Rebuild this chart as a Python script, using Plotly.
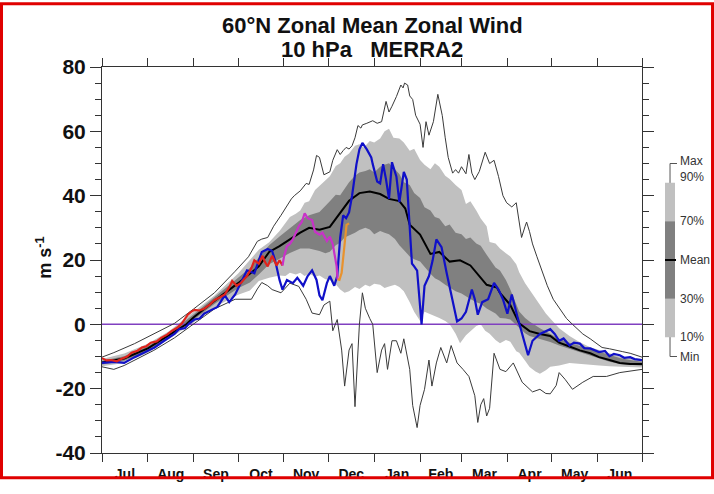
import numpy as np
import pandas as pd
import plotly.graph_objects as go

BASE = pd.Timestamp("2022-07-01")

# ---- climatology (days since 1 Jul, m/s) ----
MEAN_DAY = [0,15,31,45,57,62,76,92,106,113,120,127,134,140,147,154,161,167,174,181,188,194,201,205,208,215,222,228,235,242,249,255,260,267,269,276,282,289,296,303,309,316,323,330,336,343,350,357,365]
MEAN_VAL = [-11.9,-10.6,-7.5,-3.6,0,2.2,7.3,12.8,18,22.5,24.3,26.4,28.5,30,29.4,30.3,34.8,38.4,40.8,41.3,40.5,39,38.3,36,31,27.9,21.9,22.5,19.5,19.9,18.3,15,12.3,11.4,9.8,6,0.3,-2.1,-3,-3.6,-5.7,-6.9,-8.1,-9,-10.2,-11.1,-12,-12.3,-12.3]

P90_DAY = [0,15,31,45,62,76,92,100,106,113,120,124,127,131,134,137,140,144,147,151,154,158,161,164,167,171,174,177,181,184,188,191,194,197,201,204,208,211,215,218,222,225,228,232,235,239,243,246,249,253,256,260,262,266,269,273,276,280,282,286,289,293,296,300,303,309,316,323,330,336,343,350,357,365]
P90_VAL = [-10.8,-9.1,-6.0,-2.2,3.9,9.0,15.8,20.2,23.2,25.5,29,31.5,33.4,34.4,35.4,37.8,38.3,41.8,43,44.7,46,49.2,50.1,52.1,53.1,55.5,56,55,57,56.5,57.8,60,60.8,58,57.8,56.5,54,54.6,51.1,49.6,48.2,50.1,49,46.2,45.2,43.3,41.8,37.4,38.3,35.4,32.9,30.5,25.6,25.1,23.6,22.1,21.1,18.7,16.2,12.8,10.8,7.9,5.9,3.4,1.8,-1.2,-3.6,-5.6,-7.1,-8,-8.9,-10,-10.5,-10.8]

P70_DAY = [0,15,31,45,62,76,92,100,106,113,120,127,134,140,147,154,158,161,165,167,171,174,178,181,184,188,191,194,198,201,204,208,211,215,218,222,225,228,232,235,239,243,246,249,253,256,260,262,266,269,273,276,279,282,286,289,296,303,309,316,323,330,336,343,350,357,365]
P70_VAL = [-11.3,-9.9,-6.8,-2.9,3.1,8.3,14.5,17.5,20.8,24.6,27.3,30,32.4,33.9,34.9,38.3,40.3,40.1,42.8,44.2,46.2,47.2,47.7,48.2,47.2,49,49.6,50.1,48.2,46.7,44.2,43.3,40.8,39.3,36.4,35.4,33.4,32.9,30.5,31,28.5,28,26.5,27,25.1,24.4,21.6,20.2,17.7,16.7,13.8,10.8,7.4,4,2,0.9,-1.2,-3.1,-4.5,-5.7,-6.7,-7.5,-8.5,-9.6,-10.5,-11.1,-11.6]

P30_DAY = [0,15,31,45,62,76,92,100,106,113,120,127,134,140,147,151,154,158,161,164,167,171,174,178,181,184,188,191,194,198,201,204,208,211,215,218,222,225,228,232,235,239,243,246,249,253,256,260,262,266,269,273,276,279,282,286,289,296,303,309,316,323,330,336,343,350,357,365]
P30_VAL = [-12.5,-11.3,-8.2,-4.2,1.4,6.3,11.2,13,15.5,18.7,20.4,22.2,23.6,23.6,22.8,22.1,22.6,24.6,25.4,27,27.5,28.5,29.3,30,29.5,28,29,28.5,28,26.5,24.6,23.1,21.1,20.2,19.5,17.7,15.7,14.3,13.6,12.3,11.3,10.3,9.6,8.8,7.9,6.9,6.4,4.9,4.4,3.4,2,1.8,1.5,0,-1.2,-2.8,-3.6,-4.5,-5.5,-6.6,-7.6,-8.6,-9.5,-10.6,-11.6,-12.3,-12.7,-12.9]

P10_DAY = [0,15,31,45,62,76,92,100,106,113,120,124,127,131,134,137,140,144,147,151,154,158,161,164,167,171,174,178,181,184,188,191,194,198,201,204,208,211,215,218,222,225,228,232,235,239,242,246,249,253,256,259,262,266,269,273,276,280,282,286,289,293,296,300,303,309,316,323,330,336,343,350,357,365]
P10_VAL = [-13,-12,-8.8,-4.7,0.6,5.3,9.2,10.5,13.5,14.5,15.2,15,16,15.5,16,15,15.8,14.8,15.2,14,13.8,12.5,10.8,9.8,10.3,11.6,11,12.3,11.8,12.6,12.3,11.3,11.8,12.3,11.6,10.3,6.9,3.9,1,3.9,3,2.5,2,1,0,-2.9,-5.9,-3.4,-2,-0.5,0,-2,-2.9,-4.9,-5.9,-4.9,-5.4,-8.4,-8.8,-11.3,-13.3,-14.7,-15.4,-14.3,-13.2,-12.8,-12,-12.2,-12.5,-12.8,-13,-13.2,-13.3,-13.4]

MAX_DAY = [0,8,22,35,49,62,76,90,99,105,108,112,116,121,125,128,130,134,138,140,143,145,147,150,154,156,159,161,163,165,167,169,171,173,175,176,179,183,186,189,192,194,196,199,202,203.5,204.5,206.6,208,210,212,215,217,219,221,224,227,230,232,234,237,239,241,243,246,248,250,252,255,259,262,265,268,271,273.5,277,280,282,283.6,286,287,289,291,294,296,298,301,305,309,314,318,321,325,330,334,338,343,348,352,357,361,365]
MAX_VAL = [-10.2,-8.8,-6,-3,0.3,4.8,9.8,16.5,21,25.8,26.5,27,30.5,33.9,37,39,40,41.5,43.8,43.5,48,52.5,51.9,46.5,47.4,51,54.3,52.8,54,55,54.5,55.5,58,61.8,61,62,62.5,63.3,62.5,63,69.3,66,67.8,70.8,74.4,73.5,75,74.4,71,69.9,65,62.2,55,63,58.8,63,71.5,64.9,58,51.9,47,48.1,47,49,46.8,52.8,47,45,47.5,53.5,50,51,46,40,37.8,36.5,37.8,30.9,27,30.5,31.8,28.8,25,21,18.5,15.9,12,7.8,5,1.8,0,-1.2,-3,-4.5,-6,-7.2,-7.6,-8,-8.5,-9,-9.6,-10.2]

MIN_DAY = [0,8,15,22,35,49,62,76,90,101,105,108,112,115,121,127,133,138,142,147,150,154,156,159,162,164,167,169,171,174,176,178,181,183,186,189,191,193,196,199,202,204,208,210,213,215,218,221,223,226,229,233,236,240,244,248,252,254,256,258,260,262,265,269,273,278,284,291,296,300,303,307,309,313,318,325,332,341,350,357,365]
MIN_VAL = [-13.2,-14,-12.8,-11.1,-8.1,-4.2,0,4.8,7.8,7.8,11,13,12,10.8,9.8,12.8,11.8,7.8,3.5,3,6,7.2,-2,1.5,-8,-19.2,-8,-6,-25.6,0,9.8,5,1.8,0,-15,-8,-6,-14,-5.1,-5.1,-9,-4.5,-14,-25.2,-32.1,-25.2,-20.2,-11.1,-19.2,-12,-7.2,-12,-6.6,-12,-14,-16.2,-22.2,-30.5,-25,-23.1,-28.5,-26.1,-9,-14,-14.7,-12,-18,-21,-20.2,-21.5,-21.6,-19,-15,-17.1,-20.2,-18,-16.2,-16.2,-15,-14.5,-14]

# ---- individual years ----
BLUE_DAY = [0,4,8.5,15,22,29,35.5,42,49,52,56,59,62.5,66,69,74,78,83,86,90,94,98,103,108,112,115,117,120,122,125,129,132,136,139,142,145,147,149,152,154,157,159,161,163,165,167,169,172,174,176,179,182,183,186,188,190,192,194,196,199,201,204,206,208,209.5,211,213,216,218,221,223.5,226,229.5,233,236,240,243,246,250,252,254,257,261,265,268,271,274,277,281,284,288,291,296,303,306,309,312,316,319,323,326,330,333,336,340,343,346,350,353,357,360,365]
BLUE_VAL = [-12,-11.8,-11.7,-12,-10.2,-8.7,-7.2,-5.1,-3,-1.5,-1.2,0.3,1.5,1.8,3.3,4.5,5.4,9,6.9,9.3,12.9,16.8,15.9,22.5,23.4,22.8,19.9,13.8,10.8,13.8,12.8,14.5,12,15,16.8,13.8,9,7.5,12.8,15,12,15,27,33.9,33,34.8,39.9,49.8,54.4,56.4,54.4,51.9,49.8,44.4,43.8,49.8,45,39,50.4,45.9,38,47.4,45,31,18.9,18,16.7,0,12,15,19.9,26.4,24,15.9,9.8,0.9,1.8,3.9,10.8,7.8,3,6.9,7.8,12.9,10.8,7.8,3.3,9.3,2,-3,-9.6,-5.1,-3,-1.5,-3,-5.1,-4.4,-6.6,-5.7,-6,-7.4,-7.5,-8,-8.6,-8.3,-9.9,-9.2,-9.6,-10.4,-10.2,-10.8,-11.1]

RED_DAY = [0,3,6,10,13,17,20,24,27,30,33,37,40,44,47,51,54,58,60,62.5,66,69,73,76,80,83,86,88,91,94,96,98,101,103,106,108.5,110,112,115,118,120,122]
RED_VAL = [-10.5,-11.2,-11.1,-11.5,-10.8,-10,-8.8,-8.2,-7.2,-6.8,-5.7,-5.3,-4.2,-3.2,-2.1,-1,0.3,3,3.8,4.5,4.3,4.8,6.2,7.5,8.5,9.3,11.5,13.5,12,12.9,14,15,17.5,19.9,18.9,21.3,19.5,18,21.3,18.3,19.9,18.3]

MAGENTA_DAY = [122,123,125,127,129,131.5,133,135,137,139,142,144,147,149,152,154,156,158.6,159.2]
MAGENTA_VAL = [18.3,21,24.3,25,26.4,28.8,30.5,31.8,34.5,33,32.4,28.8,27.9,28.5,25.9,27.3,24.9,18,14]

ORANGE_DAY = [159.2,160.5,162,164,165.3,167]
ORANGE_VAL = [14,13.8,16,25.9,30.9,31.4]

ZERO_LINE = [0, 0]
YEAR_SPAN = [0, 365]

Y_TICKS = [-40, -20, 0, 20, 40, 60, 80]
Y_TICK_TEXT = ["-40", "-20", "0", "20", "40", "60", "80"]
Y_MINOR = list(range(-40, 81, 5))
LEGEND_LABELS = ["Max", "90%", "70%", "Mean", "30%", "10%", "Min"]
LEGEND_POS = [0.757, 0.716, 0.6, 0.5, 0.4, 0.3, 0.248]


def to_dates(days):
    return list(BASE + pd.to_timedelta(np.asarray(days, dtype=float), unit="D"))


def band(upper_d, upper_v, lower_d, lower_v):
    x = to_dates(upper_d) + to_dates(lower_d)[::-1]
    y = list(upper_v) + list(lower_v)[::-1]
    return x, y


LIGHT = "#c0c0c0"
DARK = "#808080"
FONT = "Liberation Sans, Arial, sans-serif"

fig = go.Figure()

bx, by = band(P90_DAY, P90_VAL, P10_DAY, P10_VAL)
fig.add_trace(go.Scatter(x=bx, y=by, fill="toself", fillcolor=LIGHT,
                         line=dict(width=0), mode="lines", hoverinfo="skip"))
bx, by = band(P70_DAY, P70_VAL, P30_DAY, P30_VAL)
fig.add_trace(go.Scatter(x=bx, y=by, fill="toself", fillcolor=DARK,
                         line=dict(width=0), mode="lines", hoverinfo="skip"))

fig.add_trace(go.Scatter(x=to_dates(YEAR_SPAN), y=ZERO_LINE, mode="lines",
                         line=dict(color="#8040c0", width=1.5)))

fig.add_trace(go.Scatter(x=to_dates(MAX_DAY), y=MAX_VAL, mode="lines",
                         line=dict(color="#3a3a3a", width=1)))
fig.add_trace(go.Scatter(x=to_dates(MIN_DAY), y=MIN_VAL, mode="lines",
                         line=dict(color="#3a3a3a", width=1)))
fig.add_trace(go.Scatter(x=to_dates(MEAN_DAY), y=MEAN_VAL, mode="lines",
                         line=dict(color="black", width=2)))

fig.add_trace(go.Scatter(x=to_dates(BLUE_DAY), y=BLUE_VAL, mode="lines",
                         line=dict(color="#1010c8", width=2.2)))
fig.add_trace(go.Scatter(x=to_dates(RED_DAY), y=RED_VAL, mode="lines",
                         line=dict(color="#e0231c", width=2.2)))
fig.add_trace(go.Scatter(x=to_dates(MAGENTA_DAY), y=MAGENTA_VAL, mode="lines",
                         line=dict(color="#c832c8", width=2.2)))
fig.add_trace(go.Scatter(x=to_dates(ORANGE_DAY), y=ORANGE_VAL, mode="lines",
                         line=dict(color="#e8922e", width=2.2)))

# ---- legend key (right side) ----
xb0, xb1, xl = 1.0426, 1.0611, 1.0519
shapes = [
    dict(type="line", xref="paper", yref="paper", x0=xl, x1=xl, y0=0.25, y1=0.75,
         line=dict(color="#555", width=1)),
    dict(type="line", xref="paper", yref="paper", x0=xl, x1=1.0648, y0=0.75, y1=0.75,
         line=dict(color="#555", width=1)),
    dict(type="line", xref="paper", yref="paper", x0=xl, x1=1.0648, y0=0.25, y1=0.25,
         line=dict(color="#555", width=1)),
    dict(type="rect", xref="paper", yref="paper", x0=xb0, x1=xb1, y0=0.3, y1=0.7,
         fillcolor=LIGHT, line=dict(width=0)),
    dict(type="rect", xref="paper", yref="paper", x0=xb0, x1=xb1, y0=0.4, y1=0.6,
         fillcolor=DARK, line=dict(width=0)),
    dict(type="line", xref="paper", yref="paper", x0=1.0426, x1=1.063, y0=0.5, y1=0.5,
         line=dict(color="black", width=2)),
    # red frame round the picture
    dict(type="rect", xref="paper", yref="paper", x0=-0.1861, x1=1.1306,
         y0=-0.0638, y1=1.1638, line=dict(color="#e00000", width=3)),
]

annotations = []
for lab, pos in zip(LEGEND_LABELS, LEGEND_POS):
    annotations.append(dict(xref="paper", yref="paper", x=1.0667, y=pos, text=lab,
                            showarrow=False, xanchor="left", yanchor="middle",
                            font=dict(family=FONT, size=12, color="#333")))

annotations.append(dict(xref="paper", yref="paper", x=0.5, y=1.10625,
                        text="<b>60°N Zonal Mean Zonal Wind</b>", showarrow=False,
                        xanchor="center", yanchor="middle",
                        font=dict(family=FONT, size=22, color="#111")))
annotations.append(dict(xref="paper", yref="paper", x=0.5, y=1.04625,
                        text="<b>10 hPa\u00a0\u00a0\u00a0MERRA2</b>", showarrow=False,
                        xanchor="center", yanchor="middle",
                        font=dict(family=FONT, size=22, color="#111")))
annotations.append(dict(xref="paper", yref="paper", x=-0.108, y=0.505,
                        text="<b>m s<sup>-1</sup></b>", showarrow=False, textangle=-90,
                        xanchor="center", yanchor="middle",
                        font=dict(family=FONT, size=18, color="#111")))

fig.update_layout(
    width=714, height=494, autosize=False,
    margin=dict(l=102, r=72, t=67, b=27),
    paper_bgcolor="white", plot_bgcolor="white",
    showlegend=False,
    font=dict(family=FONT, color="#111"),
    shapes=shapes,
    annotations=annotations,
    xaxis=dict(type="date",
               range=[BASE, BASE + pd.Timedelta(days=365)],
               dtick="M1", tick0="2022-07-01", tickformat="%b",
               ticklabelmode="period",
               ticks="outside", ticklen=8, tickcolor="#333", tickwidth=1,
               showline=True, linecolor="#333", linewidth=1, mirror="allticks",
               showgrid=False, zeroline=False,
               tickfont=dict(family=FONT, size=14, color="#111", weight="bold")),
    yaxis=dict(range=[-40, 80], tickmode="array", tickvals=Y_TICKS, ticktext=Y_TICK_TEXT,
               ticks="outside", ticklen=11, tickcolor="#333", tickwidth=1,
               minor=dict(tickmode="array", tickvals=Y_MINOR, ticks="outside", ticklen=6,
                          tickcolor="#333", tickwidth=1, showgrid=False),
               showline=True, linecolor="#333", linewidth=1, mirror="allticks",
               showgrid=False, zeroline=False,
               tickfont=dict(family=FONT, size=21, color="#111", weight="bold")),
)

fig.write_html("out.html",
               config={"displayModeBar": False, "responsive": False},
               post_script="document.body.style.margin='0px';document.body.style.overflow='hidden';")
